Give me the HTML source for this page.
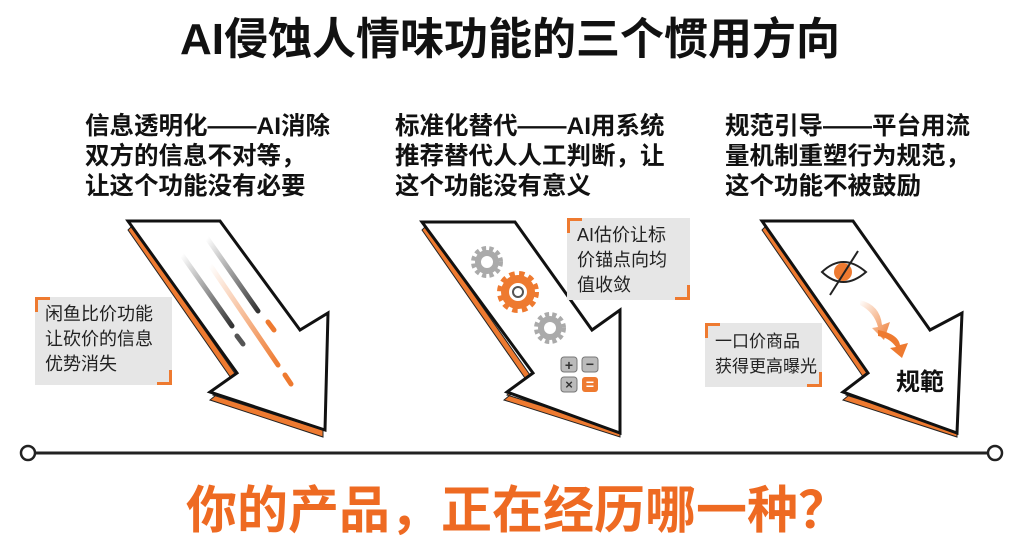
<!DOCTYPE html>
<html><head><meta charset="utf-8"><style>
body{margin:0;width:1024px;height:559px;background:#fff;overflow:hidden;position:relative;font-family:"Liberation Sans","Noto Sans CJK SC",sans-serif;}
.t{position:absolute;font-weight:bold;color:#111;white-space:nowrap}
.sub{font-size:24.5px;line-height:30px;}
.box{position:absolute;background:#e6e6e6;font-size:18px;line-height:25px;color:#222;padding:5px 0 0 10px;box-sizing:border-box;white-space:nowrap}
.box:before{content:"";position:absolute;left:0;top:0;width:12px;height:12px;border-left:3px solid #ee7a30;border-top:3px solid #ee7a30}
.box:after{content:"";position:absolute;right:0;bottom:0;width:12px;height:12px;border-right:3px solid #ee7a30;border-bottom:3px solid #ee7a30}
</style></head><body>
<div class="t" style="left:180px;top:15px;font-size:44px;line-height:50px;">AI侵蚀人情味功能的三个惯用方向</div>
<div class="t sub" style="left:85px;top:112px;">信息透明化——AI消除<br>双方的信息不对等，<br>让这个功能没有必要</div>
<div class="t sub" style="left:395px;top:112px;">标准化替代——AI用系统<br>推荐替代人人工判断，让<br>这个功能没有意义</div>
<div class="t sub" style="left:725px;top:112px;">规范引导——平台用流<br>量机制重塑行为规范，<br>这个功能不被鼓励</div>
<svg width="1024" height="559" style="position:absolute;left:0;top:0">
<defs>
<linearGradient id="g1" x1="0" y1="0" x2="1" y2="1"><stop offset="0" stop-color="#fff"/><stop offset="1" stop-color="#333"/></linearGradient>
<linearGradient id="g2" x1="0" y1="0" x2="1" y2="1"><stop offset="0" stop-color="#fff"/><stop offset="1" stop-color="#ee7a30"/></linearGradient>
</defs>
<g stroke-linejoin="miter">
<polygon points="128,230 233,381 210,400 323,437 323,430 213,395 236,375 132,226" fill="#ee7a30" stroke="#222" stroke-width="1"/>
<polygon points="128,221 220,221 300,330 328,313 325,430 210,392 237,373" fill="#fff" stroke="#111" stroke-width="3"/>
<line x1="182" y1="255" x2="232" y2="326" stroke="url(#g1)" stroke-width="5" stroke-linecap="round"/>
<line x1="207" y1="238" x2="258" y2="311" stroke="url(#g1)" stroke-width="5" stroke-linecap="round"/>
<line x1="210" y1="265" x2="278" y2="365" stroke="url(#g2)" stroke-width="5" stroke-linecap="round"/>
<line x1="237" y1="336" x2="243" y2="344" stroke="#555" stroke-width="5" stroke-linecap="round"/>
<line x1="268" y1="322" x2="274" y2="330" stroke="#ee7a30" stroke-width="5" stroke-linecap="round"/>
<line x1="285" y1="375" x2="291" y2="384" stroke="#ee7a30" stroke-width="5" stroke-linecap="round"/>
<polygon points="422,230 527,381 504,400 620,437 620,430 507,395 530,375 426,226" fill="#ee7a30" stroke="#222" stroke-width="1"/>
<polygon points="422,222 515,222 592,330 620,310 620,433 507,392 533,373" fill="#fff" stroke="#111" stroke-width="3"/>
<circle cx="487" cy="262" r="13" stroke="#aaa" stroke-width="6" stroke-dasharray="4 3" fill="none"/><circle cx="487" cy="262" r="9" fill="none" stroke="#aaa" stroke-width="6"/>
<circle cx="518" cy="292" r="17" fill="none" stroke="#ee7a30" stroke-width="8" stroke-dasharray="5 4"/>
<circle cx="518" cy="292" r="13" fill="none" stroke="#ee7a30" stroke-width="8"/>
<circle cx="518" cy="292" r="5" fill="none" stroke="#555" stroke-width="2"/>
<circle cx="550" cy="328" r="13" fill="none" stroke="#aaa" stroke-width="6" stroke-dasharray="4 3"/>
<circle cx="550" cy="328" r="9" fill="none" stroke="#aaa" stroke-width="6"/>
<rect x="561" y="357" width="16" height="15" rx="3" fill="#bbb" stroke="#777"/><rect x="582" y="357" width="16" height="15" rx="3" fill="#bbb" stroke="#777"/>
<rect x="561" y="377" width="16" height="15" rx="3" fill="#bbb" stroke="#777"/><rect x="582" y="377" width="16" height="15" rx="3" fill="#ee7a30"/>
<text x="569" y="370" font-size="14" text-anchor="middle" fill="#333" font-weight="bold">+</text>
<text x="590" y="369" font-size="14" text-anchor="middle" fill="#333" font-weight="bold">−</text>
<text x="569" y="389" font-size="13" text-anchor="middle" fill="#333" font-weight="bold">×</text>
<text x="590" y="389" font-size="14" text-anchor="middle" fill="#fff" font-weight="bold">=</text>
<polygon points="762,230 866,381 843,400 957,437 957,430 846,395 869,375 766,226" fill="#ee7a30" stroke="#222" stroke-width="1"/>
<polygon points="762,221 853,221 930,330 962,313 957,433 843,392 868,373" fill="#fff" stroke="#111" stroke-width="3"/>
<path d="M822,272 Q843,252 866,272 Q843,292 822,272Z" fill="#fff" stroke="#222" stroke-width="2"/>
<circle cx="843" cy="272" r="9" fill="#ee7a30"/>
<line x1="830" y1="295" x2="858" y2="251" stroke="#222" stroke-width="2"/>
<path d="M860,300 Q880,305 882,325 L890,322 L884,340 L872,328 L878,327 Q874,312 860,305Z" fill="url(#g2)"/>
<path d="M878,330 Q898,334 900,345 L908,343 L902,358 L890,348 L896,347 Q890,338 878,336Z" fill="#ee7a30"/>
<text x="920" y="390" font-size="24" font-weight="bold" text-anchor="middle" fill="#111" font-family="Liberation Sans,Noto Sans CJK SC,sans-serif">规範</text>
</g>
<line x1="35" y1="453" x2="988" y2="453" stroke="#222" stroke-width="3"/>
<circle cx="28" cy="453" r="7" fill="#fff" stroke="#222" stroke-width="2.5"/>
<circle cx="995" cy="453" r="7" fill="#fff" stroke="#222" stroke-width="2.5"/>
</svg>
<div class="box" style="left:35px;top:297px;width:137px;height:88px;">闲鱼比价功能<br>让砍价的信息<br>优势消失</div>
<div class="box" style="left:567px;top:218px;width:123px;height:82px;">AI估价让标<br>价锚点向均<br>值收敛</div>
<div class="box" style="left:705px;top:323px;width:117px;height:64px;font-size:17px;line-height:25px;padding-top:6px">一口价商品<br>获得更高曝光</div>
<div class="t" style="left:186px;top:482px;font-size:51px;line-height:58px;color:#ee6a22;">你的产品，正在经历哪一种？</div>
</body></html>
